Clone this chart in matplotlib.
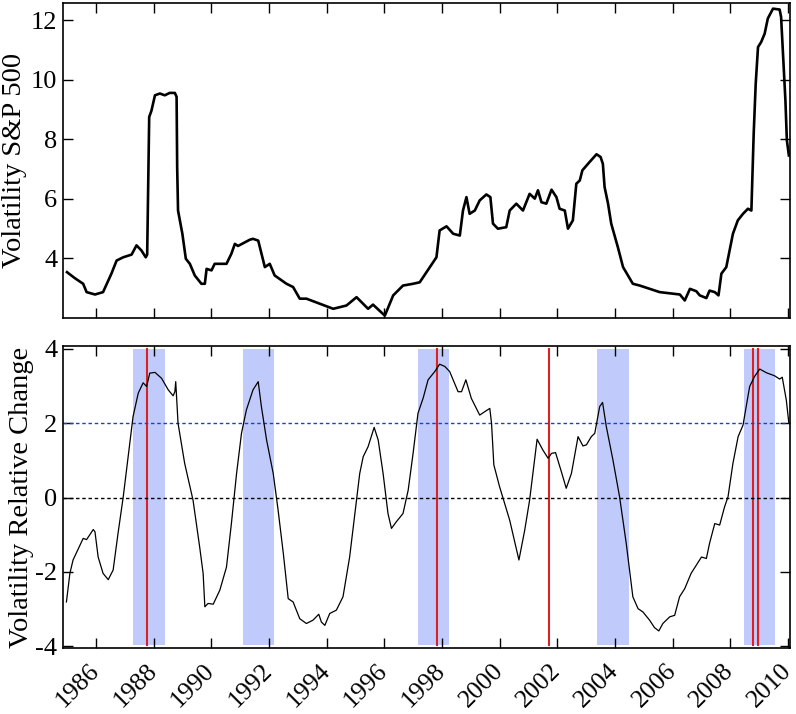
import matplotlib
matplotlib.use("Agg")
import matplotlib.pyplot as plt
import numpy as np

plt.rcParams['font.family'] = ['Liberation Serif', 'DejaVu Serif']
plt.rcParams['axes.unicode_minus'] = False

# S&P 500 volatility (top panel)
vol_years = [1985.0, 1985.27, 1985.56, 1985.68, 1985.97, 1986.25, 1986.54, 1986.72, 1986.95, 1987.24,
             1987.41, 1987.58, 1987.73, 1987.78, 1987.85, 1987.93, 1988.05, 1988.22, 1988.39, 1988.56,
             1988.74, 1988.8, 1988.82, 1988.85, 1989.0, 1989.12, 1989.26, 1989.43, 1989.66, 1989.78,
             1989.84, 1990.01, 1990.12, 1990.53, 1990.70, 1990.82, 1990.93, 1991.34, 1991.45, 1991.63,
             1991.86, 1992.03, 1992.2, 1992.61, 1992.84, 1993.07, 1993.30, 1993.76, 1994.23, 1994.69,
             1995.04, 1995.44, 1995.61, 1996.02, 1996.31, 1996.65, 1997.0, 1997.23, 1997.58, 1997.81,
             1997.92, 1998.16, 1998.39, 1998.62, 1998.73, 1998.85, 1998.96, 1999.14, 1999.31, 1999.54,
             1999.68, 1999.77, 1999.94, 2000.23, 2000.35, 2000.58, 2000.81, 2001.04, 2001.22, 2001.33,
             2001.45, 2001.62, 2001.80, 2001.97, 2002.08, 2002.26, 2002.37, 2002.54, 2002.66, 2002.78,
             2002.87, 2003.12, 2003.36, 2003.50, 2003.58, 2003.64, 2003.76, 2003.87, 2004.10, 2004.28,
             2004.62, 2004.86, 2005.20, 2005.55, 2005.90, 2006.25, 2006.42, 2006.60, 2006.82, 2006.94,
             2007.17, 2007.28, 2007.46, 2007.59, 2007.69, 2007.86, 2008.09, 2008.26, 2008.44, 2008.61,
             2008.73, 2008.81, 2008.88, 2008.96, 2009.07, 2009.19, 2009.30, 2009.48, 2009.71, 2009.76,
             2009.82, 2009.91, 2009.96, 2010.03]
vol_values = [3.54, 3.34, 3.15, 2.87, 2.79, 2.87, 3.49, 3.93, 4.04, 4.13,
              4.44, 4.27, 4.04, 4.13, 8.75, 8.97, 9.48, 9.54, 9.48, 9.56,
              9.56, 9.43, 7.07, 5.61, 4.83, 3.99, 3.82, 3.43, 3.15, 3.15,
              3.65, 3.60, 3.82, 3.82, 4.16, 4.49, 4.42, 4.63, 4.66, 4.60,
              3.71, 3.82, 3.43, 3.15, 3.04, 2.65, 2.65, 2.48, 2.31, 2.42,
              2.70, 2.31, 2.45, 2.08, 2.76, 3.09, 3.15, 3.20, 3.71, 4.04,
              4.94, 5.08, 4.83, 4.77, 5.61, 6.06, 5.50, 5.61, 5.95, 6.15,
              6.06, 5.17, 5.00, 5.05, 5.61, 5.84, 5.61, 6.17, 6.01, 6.29,
              5.89, 5.84, 6.31, 6.06, 5.67, 5.61, 5.00, 5.28, 6.51, 6.62,
              6.96, 7.24, 7.50, 7.41, 7.18, 6.40, 5.84, 5.17, 4.38, 3.71,
              3.15, 3.09, 2.98, 2.87, 2.83, 2.79, 2.59, 2.98, 2.90, 2.76,
              2.67, 2.92, 2.87, 2.76, 3.49, 3.71, 4.83, 5.28, 5.50, 5.67,
              5.61, 8.19, 9.87, 11.10, 11.27, 11.55, 12.06, 12.39, 12.36, 12.11,
              10.99, 9.31, 7.97, 7.46]

# relative change of volatility (bottom panel)
chg_years = [1984.98, 1985.10, 1985.21, 1985.56, 1985.68, 1985.91, 1985.97, 1986.08, 1986.25, 1986.43,
             1986.60, 1986.77, 1986.95, 1987.12, 1987.29, 1987.47, 1987.64, 1987.76, 1987.87, 1988.05,
             1988.28, 1988.51, 1988.68, 1988.74, 1988.77, 1988.85, 1989.08, 1989.37, 1989.60, 1989.72,
             1989.78, 1989.89, 1990.07, 1990.30, 1990.53, 1990.70, 1990.88, 1991.05, 1991.22, 1991.45,
             1991.63, 1991.74, 1991.92, 1992.15, 1992.32, 1992.50, 1992.67, 1992.84, 1993.07, 1993.30,
             1993.53, 1993.73, 1993.82, 1993.94, 1994.11, 1994.34, 1994.57, 1994.80, 1994.98, 1995.15,
             1995.27, 1995.44, 1995.65, 1995.79, 1995.96, 1996.13, 1996.25, 1996.42, 1996.65, 1996.83,
             1997.0, 1997.17, 1997.35, 1997.52, 1997.75, 1997.92, 1998.10, 1998.27, 1998.56, 1998.68,
             1998.83, 1999.02, 1999.31, 1999.48, 1999.66, 1999.72, 1999.80, 2000.00, 2000.35, 2000.67,
             2000.87, 2001.04, 2001.30, 2001.50, 2001.68, 2001.80, 2001.94, 2002.14, 2002.31, 2002.49,
             2002.72, 2002.89, 2003.01, 2003.18, 2003.30, 2003.47, 2003.57, 2003.70, 2003.93, 2004.16,
             2004.39, 2004.62, 2004.80, 2004.97, 2005.20, 2005.37, 2005.52, 2005.66, 2005.90, 2006.07,
             2006.24, 2006.42, 2006.64, 2006.82, 2007.00, 2007.17, 2007.28, 2007.46, 2007.63, 2007.80,
             2007.92, 2008.09, 2008.27, 2008.44, 2008.55, 2008.67, 2008.84, 2009.02, 2009.25, 2009.53,
             2009.71, 2009.80, 2009.94, 2010.03]
chg_values = [-2.81, -2.04, -1.68, -1.10, -1.13, -0.86, -0.92, -1.60, -2.04, -2.21,
              -1.95, -0.96, 0.02, 1.10, 2.18, 2.81, 3.09, 2.99, 3.35, 3.37,
              3.21, 2.90, 2.74, 2.85, 3.12, 2.00, 0.92, -0.07, -1.33, -2.04,
              -2.94, -2.85, -2.87, -2.49, -1.87, -0.70, 0.65, 1.73, 2.36, 2.90,
              3.12, 2.45, 1.55, 0.65, -0.34, -1.50, -2.72, -2.81, -3.26, -3.39,
              -3.30, -3.14, -3.35, -3.44, -3.12, -3.03, -2.67, -1.60, -0.43, 0.65,
              1.10, 1.37, 1.89, 1.55, 0.65, -0.43, -0.83, -0.65, -0.43, 0.20,
              1.19, 2.27, 2.68, 3.17, 3.39, 3.59, 3.53, 3.39, 2.85, 2.85,
              3.17, 2.67, 2.22, 2.31, 2.40, 2.00, 0.88, 0.29, -0.61, -1.68,
              -0.88, -0.07, 1.57, 1.28, 1.06, 1.19, 1.21, 0.70, 0.25, 0.65,
              1.64, 1.39, 1.42, 1.64, 1.73, 2.45, 2.56, 1.91, 1.01, 0.02,
              -1.23, -2.67, -2.99, -3.08, -3.30, -3.50, -3.59, -3.39, -3.21, -3.17,
              -2.67, -2.45, -2.04, -1.82, -1.60, -1.64, -1.23, -0.70, -0.74, -0.25,
              0.02, 0.92, 1.64, 1.95, 2.45, 2.99, 3.26, 3.46, 3.36, 3.28,
              3.19, 3.24, 2.63, 2.00]

# shaded periods and event lines
span_starts = [1987.28, 1991.10, 1997.16, 2003.38, 2008.46]
span_ends = [1988.39, 1992.17, 1998.24, 2004.47, 2009.55]
events = [1987.79, 1997.82, 2001.70, 2008.78, 2008.95]
threshold = 2
year_ticks = list(range(1986, 2011, 2))

fig = plt.figure(figsize=(7.96, 7.14), dpi=100)
ax1 = fig.add_axes([0.0791, 0.5546, 0.9134, 0.4412])
ax2 = fig.add_axes([0.0791, 0.0924, 0.9134, 0.4230])

ax1.plot(vol_years, vol_values, color='black', lw=1.9)
ax1.set_xlim(1984.86, 2010.07)
ax1.set_ylim(2.0, 12.58)
ax1.set_yticks([4, 6, 8, 10, 12])
ax1.set_ylabel('Volatility S&P 500', fontsize=20.5, labelpad=3)

for s, e in zip(span_starts, span_ends):
    ax2.axvspan(s, e, ymin=0.01, ymax=0.99, color='#c0cbfb', lw=0, zorder=0)
for ev in events:
    ax2.axvline(ev, ymin=0.01, ymax=0.99, color='#dd2020', lw=1.5, zorder=1)
ax2.axhline(threshold, color='#1a3be0', lw=1.0, ls=(0, (2.5, 2)), zorder=2)
ax2.axhline(0, color='black', lw=1.0, ls=(0, (2.5, 2)), zorder=2)
ax2.plot(chg_years, chg_values, color='black', lw=0.9, zorder=3)
ax2.set_xlim(1984.86, 2010.07)
ax2.set_ylim(-4.05, 4.08)
ax2.set_yticks([-4, -2, 0, 2, 4])
ax2.set_ylabel('Volatility Relative Change', fontsize=20.5, labelpad=1)

for ax in (ax1, ax2):
    ax.set_xticks(year_ticks)
    ax.tick_params(direction='in', length=7, width=1, top=True, right=True, labelsize=19, pad=4)
    for sp in ax.spines.values():
        sp.set_linewidth(1.2)

ax1.set_xticklabels([])
ax2.set_xticklabels([str(y) for y in year_ticks], rotation=45, ha='right', va='center',
                    rotation_mode='anchor', fontsize=18.5)
ax2.tick_params(axis='x', pad=14)

fig.savefig('out.png', dpi=100)
